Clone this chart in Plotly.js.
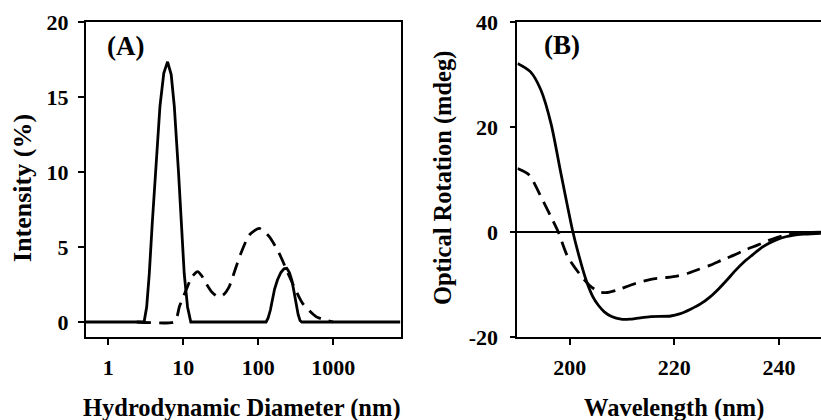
<!DOCTYPE html>
<html>
<head>
<meta charset="utf-8">
<script src="https://cdn.plot.ly/plotly-3.0.1.min.js"></script>
<style>html,body{margin:0;padding:0;background:#fff;}#chart{width:821px;height:420px;}</style>
</head>
<body>
<div id="chart"></div>
<script>
// Panel A: DLS size distribution
const sizeSolidA = [0.49, 3.0, 3.25, 3.52, 3.85, 4.23, 4.89, 5.5, 6.18, 6.9, 7.59, 8.66, 9.5, 10.3, 11.4, 12.6, 127, 135, 145, 155, 165, 180, 200, 220, 240, 260, 280, 300, 320, 340, 360, 380, 7820];
const intSolidA  = [0, 0, 1.0, 3.2, 6.5, 9.9, 14.4, 16.6, 17.35, 16.5, 14.4, 9.9, 6.2, 3.2, 1.0, 0, 0, 0.25, 0.8, 1.5, 2.2, 2.8, 3.3, 3.55, 3.58, 3.3, 2.8, 2.0, 1.2, 0.5, 0.1, 0, 0];
const sizeDashA  = [2.4, 7.5, 8.3, 8.85, 10.9, 13, 15.5, 17.5, 20.1, 24, 28.7, 34, 41, 50, 58.7, 75.9, 103, 140, 190, 273, 390, 588, 795, 1000];
const intDashA   = [0, 0, 0.4, 1.0, 2.13, 3.0, 3.36, 3.1, 2.58, 2.0, 1.69, 1.8, 2.36, 3.6, 4.58, 5.8, 6.24, 5.69, 4.58, 2.8, 1.24, 0.36, 0.13, 0];
const tickValsA  = [1, 10, 100, 1000];
const tickTextA  = ['1', '10', '100', '1000'];
const yTickValsA = [0, 5, 10, 15, 20];

// Panel B: CD spectra
const wlSolidB  = [190, 192.5, 194.5, 196.4, 198.3, 200.6, 201.8, 203.1, 204.4, 205.5, 206.6, 208, 209.8, 211.5, 213, 215.5, 219.3, 221, 223.1, 225, 226.9, 228.5, 230.1, 231.7, 233.3, 235, 236.5, 238, 239.7, 241.3, 242.9, 245, 248];
const rotSolidB = [32.1, 30.5, 27.0, 20.7, 11.2, 0, -4.7, -9.1, -12.3, -14.0, -15.2, -16.1, -16.6, -16.6, -16.4, -16.1, -16.0, -15.6, -14.7, -13.7, -12.3, -10.8, -9.1, -7.3, -5.7, -4.3, -3.1, -2.2, -1.4, -0.9, -0.57, -0.4, -0.25];
const wlDashB   = [190, 192.2, 194.5, 196.4, 197.8, 199.6, 201.8, 203.7, 205.6, 206.9, 209.1, 211.7, 215.5, 218.3, 220.5, 222.5, 224.7, 226.9, 229.2, 231.4, 233.6, 235.9, 237.8, 239.7, 241.3, 242.9, 245, 248];
const rotDashB  = [12.1, 10.9, 6.7, 2.9, 0, -4.7, -7.9, -10.1, -11.4, -11.55, -11.05, -10.1, -9.0, -8.7, -8.4, -7.9, -7.1, -6.3, -5.3, -4.4, -3.4, -2.5, -1.7, -1.0, -0.55, -0.25, -0.1, -0.05];
const xTickValsB = [200, 220, 240];
const yTickValsB = [-20, 0, 20, 40];
const yTickTextB = ['-20', '0', '20', '40'];

const FONT = 'Liberation Serif, Times New Roman, serif';
const tickFont = {family: FONT, size: 22, color: '#000', weight: 'bold'};
const titleFont = {family: FONT, size: 24.5, color: '#000', weight: 'bold'};

const lineSolid = {color: '#000', width: 2.8};
const lineDash = {color: '#000', width: 2.8, dash: '14px,8px'};

const traces = [
  {x: sizeDashA, y: intDashA, xaxis: 'x', yaxis: 'y', mode: 'lines', line: Object.assign({shape: 'spline', smoothing: 0.6}, lineDash), hoverinfo: 'skip'},
  {x: sizeSolidA, y: intSolidA, xaxis: 'x', yaxis: 'y', mode: 'lines', line: Object.assign({shape: 'linear'}, lineSolid), hoverinfo: 'skip'},
  {x: wlDashB, y: rotDashB, xaxis: 'x2', yaxis: 'y2', mode: 'lines', line: Object.assign({shape: 'spline', smoothing: 0.8}, lineDash), hoverinfo: 'skip'},
  {x: wlSolidB, y: rotSolidB, xaxis: 'x2', yaxis: 'y2', mode: 'lines', line: Object.assign({shape: 'spline', smoothing: 0.8}, lineSolid), hoverinfo: 'skip'}
];

const axisCommon = {
  showgrid: false, zeroline: false, showline: true, linecolor: '#000', linewidth: 2,
  ticks: 'outside', ticklen: 6, tickwidth: 2, tickcolor: '#000', tickfont: tickFont
};

const layout = {
  width: 821, height: 420,
  margin: {l: 0, r: 0, t: 0, b: 0},
  paper_bgcolor: '#fff', plot_bgcolor: '#fff',
  showlegend: false,
  xaxis: Object.assign({}, axisCommon, {
    type: 'log', domain: [0.10475, 0.48806], range: [-0.297, 3.899],
    tickvals: tickValsA, ticktext: tickTextA, mirror: true, anchor: 'y', ticklabelstandoff: 4
  }),
  yaxis: Object.assign({}, axisCommon, {
    domain: [0.1976, 0.9476], range: [-1, 20], tickvals: yTickValsA, mirror: true, anchor: 'x', ticklabelstandoff: 5
  }),
  xaxis2: Object.assign({}, axisCommon, {
    domain: [0.6303, 1], range: [190, 248.04], tickvals: xTickValsB, mirror: true, anchor: 'y2', ticklabelstandoff: 4
  }),
  yaxis2: Object.assign({}, axisCommon, {
    domain: [0.1976, 0.9476], range: [-20, 40], tickvals: yTickValsB, ticktext: yTickTextB, anchor: 'x2',
    zeroline: true, zerolinecolor: '#000', zerolinewidth: 1.5, ticklen: 5, ticklabelstandoff: 8
  }),
  annotations: [
    {xref: 'paper', yref: 'paper', x: 0.1523, y: 0.8905, text: '(A)', showarrow: false, xanchor: 'center', yanchor: 'middle', font: {family: FONT, size: 27, color: '#000', weight: 'bold'}},
    {xref: 'paper', yref: 'paper', x: 0.6845, y: 0.893, text: '(B)', showarrow: false, xanchor: 'center', yanchor: 'middle', font: {family: FONT, size: 27, color: '#000', weight: 'bold'}},
    {xref: 'paper', yref: 'paper', x: 0.2948, y: 0.0286, text: 'Hydrodynamic Diameter (nm)', showarrow: false, xanchor: 'center', yanchor: 'middle', font: titleFont},
    {xref: 'paper', yref: 'paper', x: 0.821, y: 0.0286, text: 'Wavelength (nm)', showarrow: false, xanchor: 'center', yanchor: 'middle', font: titleFont},
    {xref: 'paper', yref: 'paper', x: 0.028, y: 0.5524, text: 'Intensity (%)', textangle: -90, showarrow: false, xanchor: 'center', yanchor: 'middle', font: {family: FONT, size: 26, color: '#000', weight: 'bold'}},
    {xref: 'paper', yref: 'paper', x: 0.5396, y: 0.576, text: 'Optical Rotation (mdeg)', textangle: -90, showarrow: false, xanchor: 'center', yanchor: 'middle', font: titleFont}
  ]
};

Plotly.newPlot('chart', traces, layout, {staticPlot: true, displayModeBar: false});
</script>
</body>
</html>
